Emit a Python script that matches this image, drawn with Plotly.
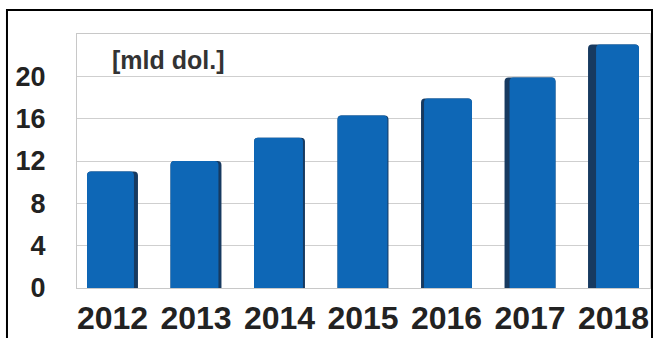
import plotly.graph_objects as go

years = ["2012", "2013", "2014", "2015", "2016", "2017", "2018"]
values = [11.0, 12.0, 14.2, 16.3, 17.9, 19.9, 23.0]
y_ticks = [0, 4, 8, 12, 16, 20]
unit_label = "[mld dol.]"

# styling for the pseudo-3D side faces (pixels, side)
side_px = [4, 3, 2, 1, 3, 5, 8]
side_left = [False, False, False, False, True, True, True]

PX = 83.5  # pixels per category
BW = 0.61
face_w = [BW - s / PX for s in side_px]
face_off = [(-BW / 2 + s / PX) if l else -BW / 2 for s, l in zip(side_px, side_left)]

fig = go.Figure()
fig.add_trace(go.Bar(
    x=years, y=values, width=BW, offset=-BW / 2,
    marker=dict(color="#173a60", line=dict(width=0), cornerradius=4),
    hoverinfo="skip", showlegend=False,
))
fig.add_trace(go.Bar(
    x=years, y=values, width=face_w, offset=face_off,
    marker=dict(color="#0e67b6", line=dict(width=0), cornerradius=4),
    showlegend=False,
))

fig.update_layout(
    width=653, height=338,
    margin=dict(l=77, r=3, t=34, b=50),
    paper_bgcolor="white", plot_bgcolor="white",
    barmode="overlay",
    xaxis=dict(
        type="category", range=[-0.425, 6.437],
        showgrid=False, showline=True, linecolor="#c8c8c8", linewidth=1, mirror=True,
        tickfont=dict(family="Liberation Sans, Arial", size=32, color="#222222", weight="bold"),
        ticks="", ticklabelstandoff=2,
    ),
    yaxis=dict(
        range=[0, 24], tickvals=y_ticks,
        showgrid=True, gridcolor="#cfcfcf", gridwidth=1,
        showline=True, linecolor="#c8c8c8", linewidth=1, mirror=True,
        zeroline=False,
        tickfont=dict(family="Liberation Sans, Arial", size=27, color="#222222", weight="bold"),
        ticks="", ticklabelstandoff=25,
    ),
    annotations=[dict(
        text=unit_label, xref="paper", yref="paper", x=0.0576, y=0.898,
        xanchor="left", yanchor="middle", showarrow=False,
        font=dict(family="Liberation Sans, Arial", size=25, color="#333333", weight="bold"),
    )],
    shapes=[dict(
        type="rect", xref="paper", yref="paper",
        x0=-0.1222, x1=1.0035, y0=-0.21, y1=1.0945,
        line=dict(color="black", width=2), fillcolor="rgba(0,0,0,0)", layer="above",
    )],
)

fig.write_html("out.html")
